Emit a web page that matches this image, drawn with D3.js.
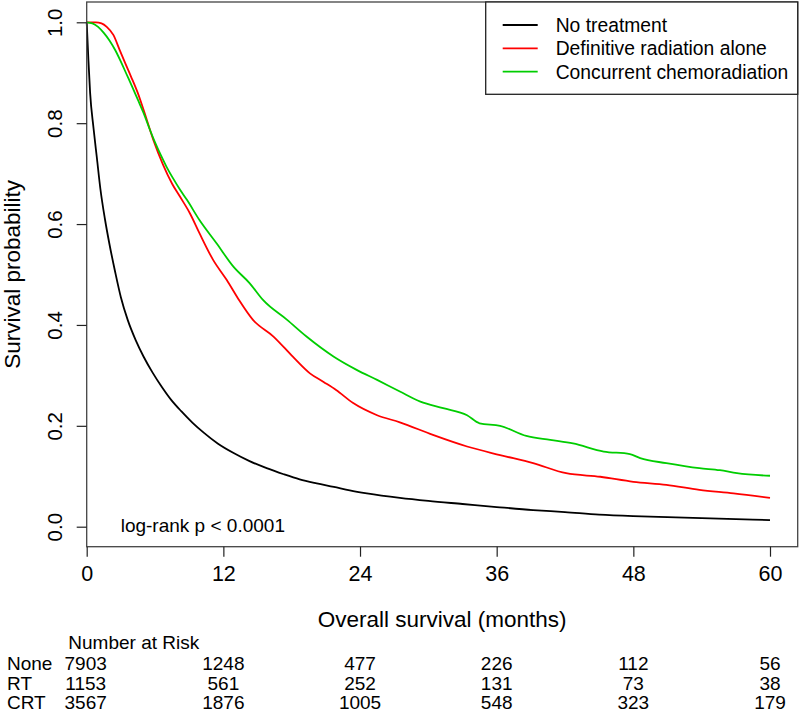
<!DOCTYPE html>
<html>
<head>
<meta charset="utf-8">
<script src="https://cdn.jsdelivr.net/npm/d3@7"></script>
<style>
  html, body { margin: 0; padding: 0; background: #fff; }
  svg { display: block; font-family: "Liberation Sans", Arial, sans-serif; }
</style>
</head>
<body>
<svg id="chart" width="800" height="713"></svg>
<script>
// ---------------- data ----------------
const seriesNames = ["No treatment", "Definitive radiation alone", "Concurrent chemoradiation"];
const seriesColors = ["#000000", "#ff0000", "#00cd00"];
const riskLabels = ["None", "RT", "CRT"];

const noneMonths = [0, 0.15, 0.3, 0.6, 0.9, 1.2, 1.6, 2.0, 2.5, 3.0, 3.6, 4.3, 5.0, 5.8, 6.6, 7.4, 8.3, 9.3, 10.3, 11.5, 12.9, 14.3, 15.8, 17.3, 18.7, 20.2, 21.7, 23.1, 24.6, 27.5, 30, 33, 36, 39.2, 42, 45, 48, 51, 54, 57, 60];
const noneSurv   = [1.0, 0.925, 0.86, 0.79, 0.73, 0.67, 0.61, 0.56, 0.505, 0.455, 0.410, 0.370, 0.337, 0.305, 0.277, 0.252, 0.229, 0.206, 0.186, 0.165, 0.146, 0.130, 0.116, 0.104, 0.094, 0.086, 0.079, 0.072, 0.066, 0.057, 0.051, 0.045, 0.039, 0.033, 0.029, 0.024, 0.021, 0.019, 0.017, 0.015, 0.013];

const rtMonths = [0, 0.8, 1.3, 1.76, 2.34, 2.9, 3.4, 3.9, 4.5, 5.0, 5.85, 6.7, 7.5, 8.2, 9.07, 9.9, 11.1, 12.3, 13.3, 14.6, 16.4, 18.1, 19.6, 20.8, 21.9, 23.4, 25.5, 27.5, 30.4, 33.4, 36.3, 39.2, 42.1, 45.1, 48, 50.9, 53.8, 56.8, 60];
const rtSurv   = [1.0, 1.0, 0.998, 0.991, 0.975, 0.945, 0.918, 0.892, 0.859, 0.826, 0.767, 0.718, 0.680, 0.654, 0.621, 0.582, 0.529, 0.489, 0.452, 0.410, 0.377, 0.337, 0.304, 0.287, 0.271, 0.245, 0.221, 0.207, 0.182, 0.159, 0.142, 0.126, 0.106, 0.099, 0.089, 0.083, 0.073, 0.066, 0.057];

const crtMonths = [0, 0.5, 1.0, 1.5, 2.0, 2.5, 3.0, 3.5, 4.0, 4.5, 5.0, 5.5, 6.0, 6.5, 7.0, 7.6, 8.2, 8.8, 9.9, 11.4, 12.9, 14.3, 15.5, 17.6, 19.3, 21.7, 23.7, 25.5, 27.5, 29.3, 31.3, 33.4, 34.5, 36.3, 38.6, 40.7, 42.7, 45.4, 47.7, 48.6, 50.9, 53.8, 55.6, 57.1, 60];
const crtSurv   = [1.0, 0.998, 0.991, 0.979, 0.964, 0.945, 0.922, 0.897, 0.872, 0.846, 0.820, 0.790, 0.762, 0.737, 0.714, 0.690, 0.668, 0.648, 0.608, 0.562, 0.515, 0.483, 0.449, 0.410, 0.377, 0.337, 0.311, 0.291, 0.268, 0.248, 0.235, 0.221, 0.205, 0.200, 0.180, 0.172, 0.165, 0.149, 0.144, 0.136, 0.126, 0.116, 0.112, 0.106, 0.101];

const xTicks = [0, 12, 24, 36, 48, 60];
const yTicks = [0.0, 0.2, 0.4, 0.6, 0.8, 1.0];
const riskNone = [7903, 1248, 477, 226, 112, 56];
const riskRT   = [1153, 561, 252, 131, 73, 38];
const riskCRT  = [3567, 1876, 1005, 548, 323, 179];

const pValueText = "log-rank p < 0.0001";
const xTitle = "Overall survival (months)";
const yTitle = "Survival probability";
const riskTitle = "Number at Risk";

// ---------------- layout ----------------
const svg = d3.select("#chart");
const box = { left: 86.7, right: 797.7, top: 2, bottom: 546.7 };

const x = d3.scaleLinear().domain([0, 60]).range([86.7, 770]);
const y = d3.scaleLinear().domain([0, 1]).range([526.7, 22.3]);

const series = [
  { name: seriesNames[0], color: seriesColors[0], pts: d3.zip(noneMonths, noneSurv) },
  { name: seriesNames[1], color: seriesColors[1], pts: d3.zip(rtMonths, rtSurv) },
  { name: seriesNames[2], color: seriesColors[2], pts: d3.zip(crtMonths, crtSurv) }
];

// curves
const line = d3.line().x(d => x(d[0])).y(d => y(d[1])).curve(d3.curveMonotoneX);
svg.append("g").selectAll("path").data(series).join("path")
  .attr("d", d => line(d.pts))
  .attr("fill", "none")
  .attr("stroke", d => d.color)
  .attr("stroke-width", 1.8);

// plot box
svg.append("rect")
  .attr("x", box.left).attr("y", box.top)
  .attr("width", box.right - box.left).attr("height", box.bottom - box.top)
  .attr("fill", "none").attr("stroke", "#444").attr("stroke-width", 1.3);

// x axis
const xAxis = d3.axisBottom(x).tickValues(xTicks).tickSize(10).tickPadding(9).tickFormat(d3.format("d"));
const gx = svg.append("g").attr("transform", `translate(0,${box.bottom})`).call(xAxis);
gx.select(".domain").remove();
gx.selectAll("line").attr("stroke", "#222").attr("stroke-width", 1.2);
gx.selectAll("text").attr("font-size", 21.5).attr("fill", "#000").attr("font-family", "Liberation Sans, Arial, sans-serif");

// y axis
const yAxis = d3.axisLeft(y).tickValues(yTicks).tickSize(10).tickFormat(d3.format(".1f"));
const gy = svg.append("g").attr("transform", `translate(${box.left},0)`).call(yAxis);
gy.select(".domain").remove();
gy.selectAll("line").attr("stroke", "#222").attr("stroke-width", 1.2);
gy.selectAll("text")
  .attr("font-size", 20.5).attr("fill", "#000").attr("font-family", "Liberation Sans, Arial, sans-serif")
  .attr("x", null).attr("dy", null)
  .attr("text-anchor", "middle")
  .attr("transform", "translate(-25,0) rotate(-90)");

// axis titles
svg.append("text")
  .attr("x", (box.left + box.right) / 2).attr("y", 627)
  .attr("text-anchor", "middle").attr("font-size", 22.5)
  .text(xTitle);
svg.append("text")
  .attr("transform", `translate(19.5,${(box.top + box.bottom) / 2}) rotate(-90)`)
  .attr("text-anchor", "middle").attr("font-size", 22.5)
  .text(yTitle);

// p-value
svg.append("text").attr("x", 120.7).attr("y", 531.5).attr("font-size", 19).text(pValueText);

// legend
const leg = svg.append("g");
leg.append("rect").attr("x", 485.7).attr("y", box.top).attr("width", box.right - 485.7).attr("height", 94.3 - box.top)
  .attr("fill", "#fff").attr("stroke", "#222").attr("stroke-width", 1.3);
series.forEach((s, i) => {
  const cy = 25 + i * 23.3;
  leg.append("line").attr("x1", 502.7).attr("x2", 537.7).attr("y1", cy).attr("y2", cy)
    .attr("stroke", s.color).attr("stroke-width", 1.8);
  leg.append("text").attr("x", 555.7).attr("y", cy + 7).attr("font-size", 19.3).text(s.name);
});

// number at risk table
svg.append("text").attr("x", 68.3).attr("y", 648.5).attr("font-size", 19).text(riskTitle);
const riskRows = [riskNone, riskRT, riskCRT];
const rowY = [669.5, 689.5, 708.5];
riskRows.forEach((row, i) => {
  svg.append("text").attr("x", 7).attr("y", rowY[i]).attr("font-size", 19).text(riskLabels[i]);
  svg.append("g").selectAll("text").data(row).join("text")
    .attr("x", (d, j) => x(xTicks[j]) - (j === 0 ? 1 : 0))
    .attr("y", rowY[i])
    .attr("text-anchor", "middle").attr("font-size", 19)
    .text(d => d);
});
</script>
</body>
</html>
